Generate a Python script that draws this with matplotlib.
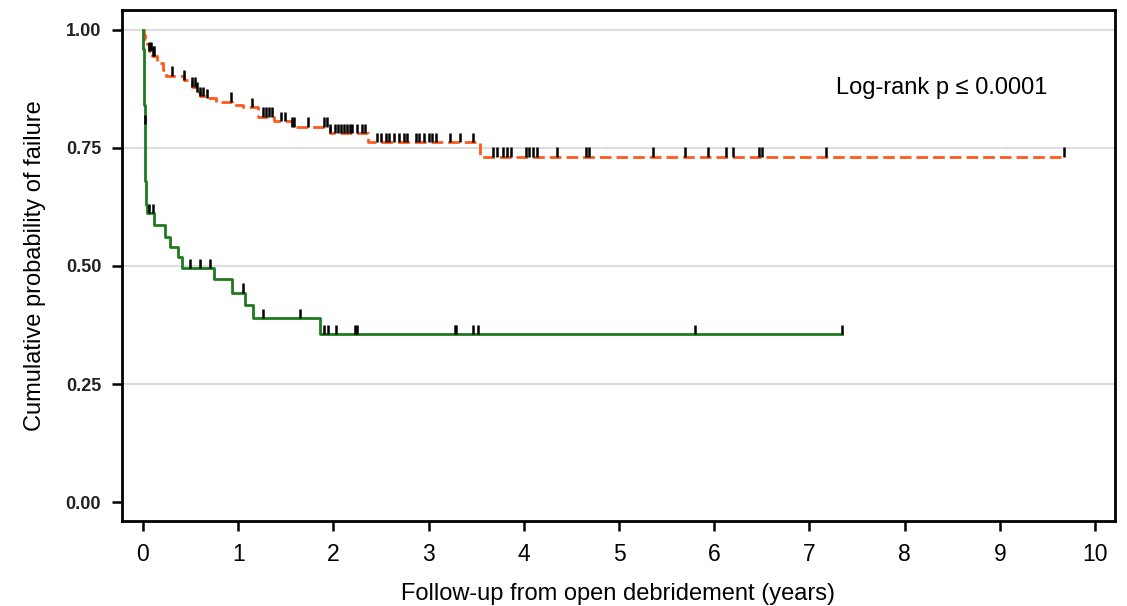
import numpy as np
import matplotlib.pyplot as plt

plt.rcParams['font.family'] = ['Liberation Sans', 'DejaVu Sans']

# orange (dashed) group: event times (years) and survival after each event
orange_t = [0, 0.01, 0.02, 0.04, 0.06, 0.09, 0.15, 0.21, 0.24, 0.43, 0.52, 0.56, 0.60,
            0.66, 0.77, 0.93, 1.05, 1.21, 1.38, 1.56, 1.96, 2.36, 3.54]
orange_s = [1.0, 0.99, 0.98, 0.97, 0.955, 0.945, 0.93, 0.915, 0.903, 0.894, 0.88, 0.869, 0.859,
            0.855, 0.848, 0.841, 0.836, 0.816, 0.806, 0.795, 0.781, 0.762, 0.731]
orange_end = 9.68
orange_cens = [0.06, 0.08, 0.10, 0.12, 0.30, 0.43, 0.52, 0.55, 0.57, 0.60, 0.63, 0.67, 0.92,
               1.14, 1.26, 1.29, 1.32, 1.35, 1.45, 1.49, 1.56, 1.59, 1.73, 1.90, 1.93, 1.96,
               2.02, 2.05, 2.08, 2.11, 2.14, 2.17, 2.20, 2.25, 2.30, 2.33, 2.46, 2.50, 2.55,
               2.58, 2.64, 2.69, 2.74, 2.77, 2.87, 2.90, 2.95, 3.00, 3.04, 3.08, 3.23, 3.33,
               3.47, 3.68, 3.72, 3.78, 3.82, 3.87, 4.02, 4.06, 4.10, 4.14, 4.35, 4.65, 4.69,
               5.36, 5.69, 5.93, 6.12, 6.20, 6.47, 6.50, 7.17, 9.68]

# green (solid) group
green_t = [0, 0.003, 0.006, 0.009, 0.012, 0.016, 0.019, 0.022, 0.026, 0.030, 0.035, 0.045,
           0.12, 0.23, 0.28, 0.37, 0.41, 0.75, 0.93, 1.07, 1.16, 1.86]
green_s = [1.0, 0.96, 0.92, 0.88, 0.84, 0.80, 0.76, 0.72, 0.68, 0.65, 0.63, 0.612,
           0.587, 0.562, 0.541, 0.52, 0.495, 0.472, 0.443, 0.417, 0.389, 0.356]
green_end = 7.34
green_cens = [0.018, 0.06, 0.10, 0.49, 0.60, 0.70, 1.05, 1.26, 1.65, 1.90, 1.94, 2.03,
              2.23, 2.25, 3.28, 3.29, 3.47, 3.52, 5.80, 7.34]

xticks = [0, 1, 2, 3, 4, 5, 6, 7, 8, 9, 10]
yticks = [0.0, 0.25, 0.5, 0.75, 1.0]

fig = plt.figure(figsize=(11.27, 6.06), dpi=100)
ax = fig.add_axes([0.1083, 0.1403, 0.881, 0.8432])

for y in yticks[1:]:
    ax.axhline(y, color='#dddddd', lw=1.5, zorder=0)


def draw_curve(t, s, end, cens, color, ls):
    tt = list(t) + [end]
    ss = list(s) + [s[-1]]
    line, = ax.step(tt, ss, where='post', color=color, lw=2.0, zorder=2)
    if ls is not None:
        line.set_dashes(ls)
    idx = np.searchsorted(t, cens, side='right') - 1
    sc = np.array(s)[idx]
    ax.vlines(cens, sc, sc + 0.02, color='black', lw=1.8, zorder=3)


draw_curve(orange_t, orange_s, orange_end, orange_cens, '#ff5a1e', (4.2, 1.8))
draw_curve(green_t, green_s, green_end, green_cens, '#1f7a1f', None)

ax.set_xlim(-0.22, 10.21)
ax.set_ylim(-0.040, 1.042)
ax.set_xticks(xticks)
ax.set_xticklabels([str(x) for x in xticks], fontsize=16.5)
ax.set_yticks(yticks)
ax.set_yticklabels(['%.2f' % y for y in yticks], fontsize=13, fontweight='bold',
                   color='#222222')
ax.tick_params(direction='out', length=7, width=1.8)
ax.tick_params(axis='x', pad=9)
ax.tick_params(axis='y', pad=8)
for sp in ax.spines.values():
    sp.set_linewidth(2.0)

ax.set_xlabel('Follow-up from open debridement (years)', fontsize=17, labelpad=12)
ax.set_ylabel('Cumulative probability of failure', fontsize=17, labelpad=14)
ax.text(7.28, 0.865, 'Log-rank p ≤ 0.0001', fontsize=17)

fig.savefig('out.png', dpi=100)
